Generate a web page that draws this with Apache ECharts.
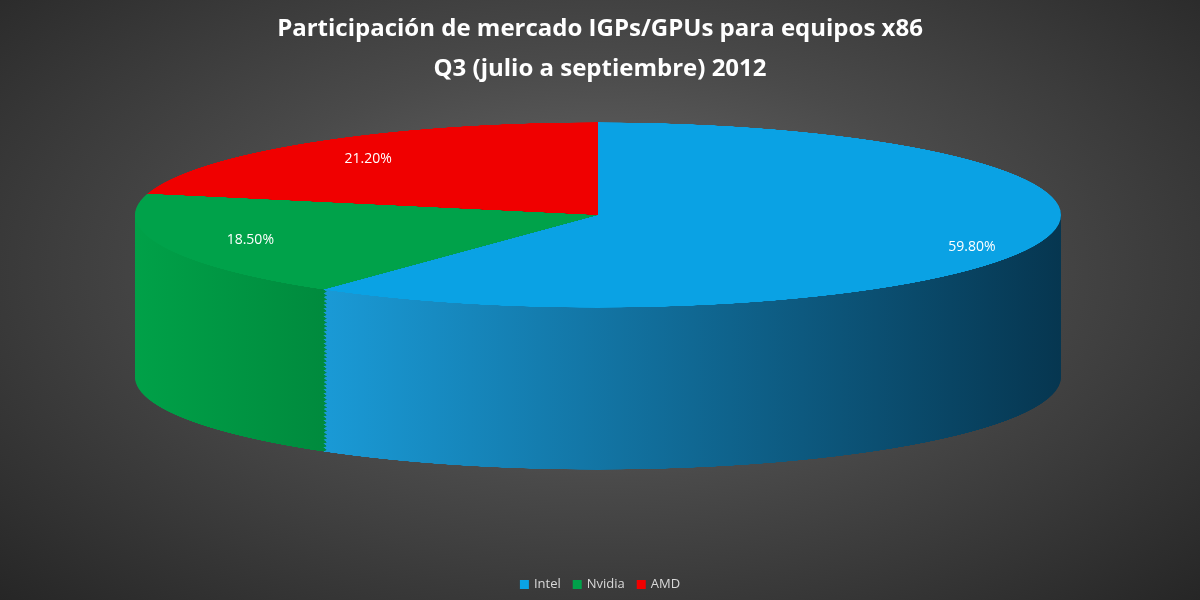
<!DOCTYPE html>
<html><head><meta charset="utf-8">
<script src="https://cdn.jsdelivr.net/npm/echarts@6/dist/echarts.min.js"></script>
<style>
html,body{margin:0;padding:0;width:1200px;height:600px;overflow:hidden;
background:radial-gradient(ellipse at 50% 45%,#6e6e6e 0%,#4a4a4a 45%,#262626 100%);}
#pie{position:absolute;left:0;top:0;width:1200px;height:3000px;transform:scaleY(0.2);transform-origin:0 0;}
#over{position:absolute;left:0;top:0;width:1200px;height:600px;}
</style></head><body>
<div id="pie"></div><div id="over"></div>
<script>
const categories=['Intel','Nvidia','AMD'];
const values=[59.8,18.5,21.2];
const labels=['59.80%','18.50%','21.20%'];
const topColors=['#0aa2e4','#00a24a','#f00000'];
const sideLeft=['#1a9ad6','#00a148','#c00000'];
const sideRight=['#063650','#006a2e','#800000'];

const CX=598, CY=215, RX=463, RY=90, DEPTH=162, S=0.2;
const pie=echarts.init(document.getElementById('pie'));
const series=[];
const steps=120;
for(let i=steps;i>=0;i--){
  const isTop=i===0;
  series.push({type:'pie',silent:true,animation:false,startAngle:90,clockwise:true,
    center:[CX,(CY+DEPTH*i/steps)/S],radius:[0,RX],label:{show:false},labelLine:{show:false},
    itemStyle:{borderWidth:0},
    data:categories.map((c,k)=>({name:c,value:values[k],itemStyle:{color:isTop?topColors[k]:
      {type:'linear',x:0,y:0,x2:1,y2:0,colorStops:[{offset:0,color:sideLeft[k]},{offset:1,color:sideRight[k]}]}}}))});
}
pie.setOption({series});

const over=echarts.init(document.getElementById('over'));
const total=values.reduce((a,b)=>a+b,0);
let acc=0;const g=[];
values.forEach((v,k)=>{
  const mid=(acc+v/2)/total*2*Math.PI;acc+=v;
  const r=k===0?0.85:0.8;
  g.push({type:'text',x:CX+r*RX*Math.sin(mid),y:CY-r*RY*Math.cos(mid)+(k===0?8:0),
    style:{text:labels[k],fill:'#ffffff',font:'14px "Open Sans"',textAlign:'center',textVerticalAlign:'middle'}});
});
over.setOption({
  title:{text:'Participación de mercado IGPs/GPUs para equipos x86\nQ3 (julio a septiembre) 2012',
    left:'center',top:4,textStyle:{color:'#ffffff',fontSize:24,fontWeight:'bold',fontFamily:'Open Sans',lineHeight:40}},
  legend:{bottom:4,itemWidth:9,itemHeight:9,itemGap:12,icon:'rect',
    textStyle:{color:'#d9d9d9',fontSize:13,fontFamily:'Open Sans'},
    data:categories.map((c,k)=>({name:c,itemStyle:{color:topColors[k]}}))},
  series:[{type:'pie',radius:0,center:[-100,-100],label:{show:false},silent:true,
    data:categories.map((c,k)=>({name:c,value:values[k],itemStyle:{color:topColors[k]}}))}],
  graphic:g
});
</script></body></html>
